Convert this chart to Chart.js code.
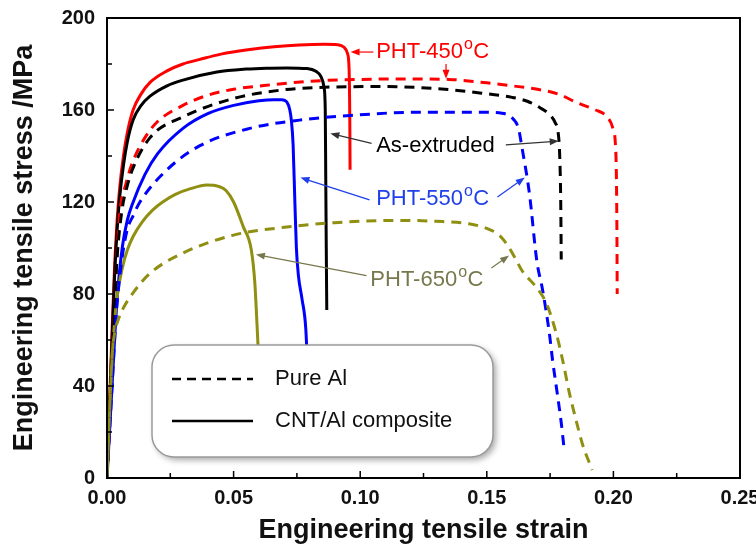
<!DOCTYPE html>
<html>
<head>
<meta charset="utf-8">
<title>Engineering tensile stress-strain curves</title>
<script src="https://cdn.jsdelivr.net/npm/chart.js@4.4.1/dist/chart.umd.min.js"></script>
<style>
  body { margin: 0; background: #fff; }
  #wrap { width: 756px; height: 550px; }
</style>
</head>
<body>
<div id="wrap"><canvas id="curves" width="756" height="550"></canvas></div>
<script>
// strain (x) and stress in MPa (y) for every curve
const pht450CntStrain = [0, 0.001, 0.002, 0.003, 0.004, 0.005, 0.0065, 0.008, 0.0103, 0.0135, 0.017, 0.0237, 0.030, 0.0367, 0.045, 0.0564, 0.066, 0.076, 0.086, 0.091, 0.0935, 0.095, 0.0956, 0.0959, 0.096];
const pht450CntStress = [0, 32, 64, 92, 112, 126, 140, 150, 160, 167, 172, 177, 180, 182, 184.3, 186.3, 187.5, 188.3, 188.6, 188.4, 187.4, 184.5, 178, 155, 134];

const extrCntStrain = [0, 0.001, 0.002, 0.003, 0.004, 0.005, 0.0065, 0.008, 0.0103, 0.0135, 0.017, 0.0237, 0.030, 0.0434, 0.055, 0.063, 0.071, 0.079, 0.0825, 0.0845, 0.0857, 0.0862, 0.0864, 0.0866, 0.0868];
const extrCntStress = [0, 30, 60, 88, 108, 122, 136, 146, 155.6, 162, 166, 170.5, 173, 176.5, 177.8, 178.2, 178.3, 178, 176.8, 174.5, 170, 160, 130, 100, 73];

const pht550CntStrain = [0, 0.001, 0.002, 0.003, 0.004, 0.006, 0.008, 0.010, 0.015, 0.020, 0.030, 0.040, 0.050, 0.060, 0.066, 0.069, 0.071, 0.0722, 0.0728, 0.0735, 0.0742, 0.0748, 0.0756, 0.077, 0.0785, 0.0795];
const pht550CntStress = [0, 20, 40, 60, 78, 100, 112, 119, 132, 141, 152, 158.5, 162, 164, 164.5, 164.5, 163.5, 160, 155.6, 145, 120, 100, 88, 78, 65, 40];

const pht650CntStrain = [0, 0.001, 0.002, 0.003, 0.004, 0.006, 0.008, 0.0103, 0.014, 0.018, 0.022, 0.027, 0.033, 0.0394, 0.044, 0.047, 0.050, 0.0538, 0.057, 0.0584, 0.0591, 0.0596, 0.060];
const pht650CntStress = [0, 28, 52, 68, 79, 91, 99, 105, 111.5, 116.5, 120, 123.3, 125.8, 127.4, 126.8, 125, 120, 109.3, 99.1, 84.6, 70, 58.7, 50];

const pht450AlStrain = [0, 0.001, 0.002, 0.003, 0.004, 0.005, 0.0075, 0.010, 0.015, 0.020, 0.030, 0.040, 0.050, 0.065, 0.080, 0.100, 0.120, 0.135, 0.150, 0.160, 0.170, 0.178, 0.186, 0.193, 0.1975, 0.1998, 0.2008, 0.2012, 0.2014, 0.2015];
const pht450AlStress = [0, 25, 50, 75, 98, 115, 128, 137, 148, 155, 162, 166.5, 169, 171, 172.5, 173.3, 173.5, 173.3, 171.8, 170.5, 169, 167, 163, 160, 157, 152, 145, 130, 105, 80];

const extrAlStrain = [0, 0.001, 0.002, 0.003, 0.004, 0.006, 0.008, 0.010, 0.017, 0.030, 0.050, 0.069, 0.089, 0.110, 0.130, 0.148, 0.160, 0.166, 0.171, 0.1748, 0.177, 0.1782, 0.1788, 0.1792, 0.1794];
const extrAlStress = [0, 25, 50, 75, 96, 117, 127, 134, 148, 157, 165, 168.7, 170, 170.2, 169.3, 167.3, 165.5, 163.8, 161, 158, 154.5, 150, 140, 120, 95];

const pht550AlStrain = [0, 0.001, 0.002, 0.003, 0.004, 0.006, 0.008, 0.0103, 0.013, 0.0237, 0.0367, 0.0564, 0.076, 0.096, 0.122, 0.148, 0.156, 0.1605, 0.1625, 0.164, 0.1668, 0.1698, 0.172, 0.1747, 0.176, 0.1778, 0.1794, 0.1806];
const pht550AlStress = [0, 20, 40, 60, 76, 96, 108, 114, 120, 134, 144.5, 152, 155.6, 157.6, 159, 159, 158.6, 156, 152, 143, 124, 94, 82, 63, 51, 37, 24, 12];

const pht650AlStrain = [0, 0.0008, 0.0015, 0.0022, 0.003, 0.0045, 0.0065, 0.0103, 0.017, 0.030, 0.050, 0.070, 0.090, 0.115, 0.130, 0.143, 0.150, 0.155, 0.158, 0.161, 0.164, 0.1695, 0.1735, 0.1774, 0.180, 0.1826, 0.1853, 0.1877, 0.1916];
const pht650AlStress = [0, 22, 42, 56, 63, 69, 74, 80.5, 89, 97.8, 105.6, 109, 111, 112, 111.6, 110.5, 108.5, 105.5, 101.5, 96, 90, 83, 76, 63, 51, 37, 25, 15, 3.5];

// axis ticks
const strainTicks = [0, 0.05, 0.10, 0.15, 0.20, 0.25];
const stressTicks = [0, 40, 80, 120, 160, 200];

const legendLabels = ['Pure Al', 'CNT/Al composite'];

const FONT = "'Liberation Sans', Arial, Helvetica, sans-serif";
const RED = '#ff0000', BLACK = '#000000', BLUE = '#0000ff', OLIVE = '#8f8f12';

function points(xs, ys) {
    return xs.map((x, i) => ({ x: x, y: ys[i] }));
}

function curve(xs, ys, color, dashed) {
    return {
        data: points(xs, ys),
        borderColor: color,
        borderWidth: 3,
        borderDash: dashed ? [10, 7] : [],
        pointRadius: 0,
        showLine: true,
        fill: false,
        cubicInterpolationMode: 'monotone'
    };
}

// text labels with arrows, anchored in data units (strain, stress)
const notes = [
    { text: 'PHT-450', deg: true, color: RED, line: RED, at: [0.1063, 185.2],
      arrows: [[0.1052, 185.2, 0.0962, 185.2], [0.1339, 180.0, 0.1339, 173.6]] },
    { text: 'As-extruded', deg: false, color: BLACK, line: '#333', at: [0.1063, 144.3],
      arrows: [[0.1045, 145.5, 0.0882, 149.8], [0.1575, 144.8, 0.1784, 146.5]] },
    { text: 'PHT-550', deg: true, color: '#1f3fea', line: '#1f3fea', at: [0.1063, 121.3],
      arrows: [[0.1037, 120.9, 0.0764, 130.6], [0.1542, 122.2, 0.1650, 130.6]] },
    { text: 'PHT-650', deg: true, color: '#78784e', line: '#78784e', at: [0.1040, 86.1],
      arrows: [[0.1025, 88.0, 0.0588, 97.2], [0.1518, 91.3, 0.1588, 96.7]] }
];

function drawArrow(ctx, x1, y1, x2, y2, color) {
    const a = Math.atan2(y2 - y1, x2 - x1);
    const len = 9, half = 3.5;
    ctx.strokeStyle = color;
    ctx.fillStyle = color;
    ctx.lineWidth = 1.2;
    ctx.beginPath();
    ctx.moveTo(x1, y1);
    ctx.lineTo(x2 - Math.cos(a) * len * 0.8, y2 - Math.sin(a) * len * 0.8);
    ctx.stroke();
    ctx.beginPath();
    ctx.moveTo(x2, y2);
    ctx.lineTo(x2 - Math.cos(a) * len - Math.sin(a) * half, y2 - Math.sin(a) * len + Math.cos(a) * half);
    ctx.lineTo(x2 - Math.cos(a) * len + Math.sin(a) * half, y2 - Math.sin(a) * len - Math.cos(a) * half);
    ctx.closePath();
    ctx.fill();
}

const notesPlugin = {
    id: 'notes',
    afterDatasetsDraw(chart) {
        const ctx = chart.ctx;
        const xs = chart.scales.x, ys = chart.scales.y;
        ctx.save();
        notes.forEach(n => {
            n.arrows.forEach(a => {
                drawArrow(ctx, xs.getPixelForValue(a[0]), ys.getPixelForValue(a[1]),
                    xs.getPixelForValue(a[2]), ys.getPixelForValue(a[3]), n.line);
            });
            let px = xs.getPixelForValue(n.at[0]);
            const py = ys.getPixelForValue(n.at[1]);
            ctx.fillStyle = n.color;
            ctx.textBaseline = 'middle';
            ctx.textAlign = 'left';
            ctx.font = '22px ' + FONT;
            ctx.fillText(n.text, px, py);
            if (n.deg) {
                px += ctx.measureText(n.text).width;
                ctx.font = '16px ' + FONT;
                ctx.fillText('o', px + 1, py - 7);
                px += ctx.measureText('o').width + 1.5;
                ctx.font = '22px ' + FONT;
                ctx.fillText('C', px, py);
            }
        });
        ctx.restore();
    }
};

// rounded legend box with drop shadow, sitting over the curves
const legendPlugin = {
    id: 'legendBox',
    afterDatasetsDraw(chart) {
        const ctx = chart.ctx;
        const area = chart.chartArea;
        const left = area.left + 45, top = area.top + 327, w = 341, h = 112, r = 22;
        ctx.save();
        ctx.shadowColor = 'rgba(0,0,0,0.35)';
        ctx.shadowBlur = 6;
        ctx.shadowOffsetX = 3;
        ctx.shadowOffsetY = 3;
        ctx.beginPath();
        ctx.roundRect(left, top, w, h, r);
        ctx.fillStyle = '#fff';
        ctx.fill();
        ctx.shadowColor = 'transparent';
        ctx.strokeStyle = '#9a9a9a';
        ctx.lineWidth = 1.5;
        ctx.stroke();

        const rows = [top + 34, top + 76];
        ctx.strokeStyle = BLACK;
        ctx.lineWidth = 2.5;
        rows.forEach((ry, i) => {
            ctx.setLineDash(i === 0 ? [9, 6] : []);
            ctx.beginPath();
            ctx.moveTo(left + 20, ry);
            ctx.lineTo(left + 101, ry);
            ctx.stroke();
        });
        ctx.setLineDash([]);
        ctx.fillStyle = '#111';
        ctx.font = '22px ' + FONT;
        ctx.textBaseline = 'middle';
        ctx.textAlign = 'left';
        rows.forEach((ry, i) => ctx.fillText(legendLabels[i], left + 123, ry));
        ctx.restore();
    }
};

// boxed frame with inward major and minor ticks
const framePlugin = {
    id: 'frame',
    afterDraw(chart) {
        const ctx = chart.ctx;
        const a = chart.chartArea;
        const xs = chart.scales.x, ys = chart.scales.y;
        ctx.save();
        ctx.strokeStyle = BLACK;
        ctx.lineWidth = 1.5;
        ctx.beginPath();
        for (let i = 0; i <= 10; i++) {
            const px = xs.getPixelForValue(i * 0.025);
            const len = i % 2 === 0 ? 7 : 5;
            ctx.moveTo(px, a.bottom);
            ctx.lineTo(px, a.bottom - len);
        }
        for (let i = 0; i <= 10; i++) {
            const py = ys.getPixelForValue(i * 20);
            const len = i % 2 === 0 ? 7 : 5;
            ctx.moveTo(a.left, py);
            ctx.lineTo(a.left + len, py);
        }
        ctx.stroke();
        ctx.lineWidth = 2;
        ctx.strokeRect(a.left, a.top, a.right - a.left, a.bottom - a.top);
        ctx.restore();
    }
};

new Chart(document.getElementById('curves'), {
    type: 'scatter',
    data: {
        datasets: [
            curve(pht650AlStrain, pht650AlStress, OLIVE, true),
            curve(pht550AlStrain, pht550AlStress, BLUE, true),
            curve(extrAlStrain, extrAlStress, BLACK, true),
            curve(pht450AlStrain, pht450AlStress, RED, true),
            curve(pht650CntStrain, pht650CntStress, OLIVE, false),
            curve(pht550CntStrain, pht550CntStress, BLUE, false),
            curve(extrCntStrain, extrCntStress, BLACK, false),
            curve(pht450CntStrain, pht450CntStress, RED, false)
        ]
    },
    options: {
        responsive: false,
        animation: false,
        layout: { padding: { top: 18, right: 16, left: 0, bottom: 0 } },
        plugins: { legend: { display: false }, tooltip: { enabled: false } },
        scales: {
            x: {
                type: 'linear',
                min: 0,
                max: 0.25,
                grid: { display: false, drawTicks: false },
                border: { display: false },
                afterBuildTicks: s => { s.ticks = strainTicks.map(v => ({ value: v })); },
                afterFit: s => { s.height = 72; s.paddingLeft = 0; s.paddingRight = 0; },
                ticks: {
                    padding: 8,
                    color: '#111',
                    font: { family: FONT, size: 20, weight: 'bold' },
                    callback: v => Number(v).toFixed(2)
                },
                title: {
                    display: true,
                    text: 'Engineering tensile strain',
                    color: '#111',
                    font: { family: FONT, size: 27, weight: 'bold' },
                    padding: { top: 0, bottom: 3 }
                }
            },
            y: {
                type: 'linear',
                min: 0,
                max: 200,
                grid: { display: false, drawTicks: false },
                border: { display: false },
                afterBuildTicks: s => { s.ticks = stressTicks.map(v => ({ value: v })); },
                afterFit: s => { s.width = 107; s.paddingTop = 0; s.paddingBottom = 0; },
                ticks: {
                    padding: 12,
                    color: '#111',
                    font: { family: FONT, size: 20, weight: 'bold' }
                },
                title: {
                    display: true,
                    text: 'Engineering tensile stress /MPa',
                    color: '#111',
                    font: { family: FONT, size: 27, weight: 'bold' },
                    padding: { top: 8, bottom: 0 }
                }
            }
        }
    },
    plugins: [legendPlugin, notesPlugin, framePlugin]
});
</script>
</body>
</html>
